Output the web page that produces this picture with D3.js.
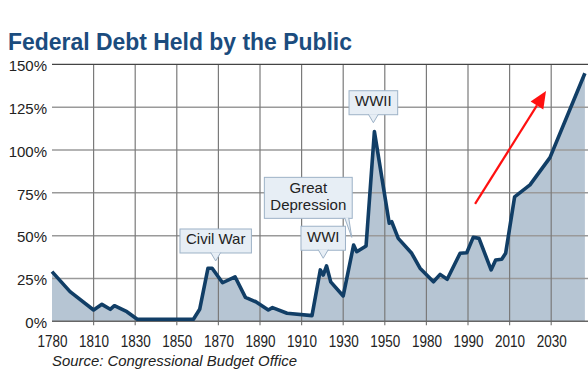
<!DOCTYPE html>
<html><head><meta charset="utf-8">
<script src="https://cdn.jsdelivr.net/npm/d3@7"></script>
<style>body{margin:0;background:#fff}svg{display:block}text{font-family:"Liberation Sans",Arial,Helvetica,sans-serif}</style>
</head><body><svg id="c" width="588" height="386"></svg>
<script>
// ---- data ----
const titleText = "Federal Debt Held by the Public";
const sourceText = "Source: Congressional Budget Office";
const tickYears = [1780,1810,1830,1850,1870,1890,1910,1930,1950,1980,1990,2010,2030];
const yTicks = [0,25,50,75,100,125,150];
const years = [1780,1793,1810,1814,1818,1820,1826,1831,1858,1861,1865,1867,1872,1878,1883,1888,1894,1896,1903,1915,1919,1920.4,1922,1924,1930,1935,1936.5,1941,1945,1953.2,1955,1959.7,1969.4,1975.4,1981.7,1983.3,1985,1988.1,1989.7,1992.5,1995.3,2001.1,2003.3,2006.2,2008.1,2012.4,2019.8,2029.4,2046.2];
const debt  = [29,17.3,6.6,9.9,7,9.1,5.6,1.2,1.2,7,31,31,22.5,26,14,11.4,6.6,8,4.7,3.3,30,27,32.3,23,14.8,44.5,40.6,44,110.7,57.2,58.1,48.4,39.7,31,23.1,27.4,24.5,39.7,40,49,48.4,30,35.8,36.2,39.7,72.6,79.6,95.5,144.8];
const calloutLabels = [["Civil War"],["WWI"],["Great","Depression"],["WWII"]];
const calloutYears  = [1868.7,1920.4,1934.1,1944.5];
const calloutValues = [35.2,36.8,49,115.9];
const arrowYears  = [1993.4,2027.5];
const arrowValues = [68.5,134.4];

// ---- layout ----
const svg = d3.select("#c");
const left = 52, step = 41.6, right = 588;
const xDomain = tickYears.concat([2050]);
const x = d3.scaleLinear().domain(xDomain).range(xDomain.map((d,i)=>left+i*step));
const y = d3.scaleLinear().domain([0,150]).range([321.3,64.3]);

// title
svg.append("text").attr("x",8).attr("y",50).attr("fill","#1b4c7e")
  .attr("font-size",23).attr("font-weight","bold")
  .attr("textLength",344).attr("lengthAdjust","spacingAndGlyphs").text(titleText);

// area
const area = d3.area().x((d,i)=>x(years[i])).y0(y(0)).y1(d=>y(d));
svg.append("path").datum(debt).attr("d",area).attr("fill","#b6c5d3");

// grid
const g = svg.append("g");
g.selectAll("line.h").data(yTicks.filter(d=>d>0 && d<150)).join("line")
  .attr("x1",left).attr("x2",right).attr("y1",d=>y(d)).attr("y2",d=>y(d))
  .attr("stroke","#9a9a9a").attr("stroke-width",1.5);
g.selectAll("line.v").data(tickYears.slice(1)).join("line")
  .attr("x1",d=>x(d)).attr("x2",d=>x(d)).attr("y1",y(150)).attr("y2",y(0)+4)
  .attr("stroke","#7a7a7a").attr("stroke-width",1.2);
g.append("line").attr("x1",left).attr("x2",right).attr("y1",y(150)).attr("y2",y(150))
  .attr("stroke","#444").attr("stroke-width",1.2);
g.append("line").attr("x1",left).attr("x2",right).attr("y1",y(0)).attr("y2",y(0))
  .attr("stroke","#666").attr("stroke-width",1.5);

// line
const line = d3.line().x((d,i)=>x(years[i])).y(d=>y(d));
svg.append("path").datum(debt).attr("d",line).attr("fill","none")
  .attr("stroke","#113e66").attr("stroke-width",3.6).attr("stroke-linejoin","round");

// y axis labels
const ya = svg.append("g").attr("transform",`translate(${left-5},0)`)
  .call(d3.axisLeft(y).tickValues(yTicks).tickSize(0).tickPadding(0).tickFormat(d=>d+"%"));
ya.select(".domain").remove();
ya.selectAll("text").attr("font-size",15).attr("fill","#222").attr("dy","0.42em")
  .attr("font-family","Liberation Sans, Arial, sans-serif");

// x axis labels
const xa = svg.append("g").attr("transform",`translate(0,${y(0)})`)
  .call(d3.axisBottom(x).tickValues(tickYears).tickSize(0).tickPadding(0).tickFormat(d3.format("d")));
xa.select(".domain").remove();
xa.selectAll("text").attr("font-size",17).attr("fill","#222").attr("y",26).attr("dy",0)
  .attr("font-family","Liberation Sans, Arial, sans-serif")
  .attr("textLength",30).attr("lengthAdjust","spacingAndGlyphs");

// source
svg.append("text").attr("x",52).attr("y",366).attr("font-size",14).attr("font-style","italic")
  .attr("fill","#222").attr("textLength",245).attr("lengthAdjust","spacingAndGlyphs").text(sourceText);

// callouts
const boxFill = "#e7eef5", boxStroke = "#9db2c7";
calloutLabels.forEach((lines,k)=>{
  const tx = x(calloutYears[k]), ty = y(calloutValues[k]);
  const cg = svg.append("g");
  const lh = 17;
  const txt = cg.append("text").attr("font-size",15).attr("fill","#222").attr("text-anchor","middle");
  lines.forEach((s,j)=>txt.append("tspan").attr("x",0).attr("y",j*lh).text(s));
  const bb = txt.node().getBBox();
  const padX = 6, padY = 3;
  const w = bb.width + 2*padX, h = lines.length*lh + 2*padY + 1;
  let bx, by;
  if (lines.length === 1) {
    bx = tx - w/2; by = ty - 8 - h;
    cg.insert("rect","text").attr("x",bx).attr("y",by).attr("width",w).attr("height",h)
      .attr("fill",boxFill).attr("stroke",boxStroke);
    cg.append("path").attr("d",`M${tx-5},${by+h-0.5}L${tx},${ty}L${tx+5},${by+h-0.5}`)
      .attr("fill",boxFill).attr("stroke",boxStroke);
  } else {
    bx = tx - w + 0.5; by = ty - 19 - h;
    cg.insert("rect","text").attr("x",bx).attr("y",by).attr("width",w).attr("height",h)
      .attr("fill",boxFill).attr("stroke",boxStroke);
    cg.append("path").attr("d",`M${tx-7},${by+h-0.5}L${tx},${ty}L${tx-3},${by+h-0.5}`)
      .attr("fill",boxFill).attr("stroke",boxStroke);
  }
  txt.attr("transform",`translate(${bx+w/2},${by+padY+12.5})`);
});

// red arrow
const ax1 = x(arrowYears[0]), ay1 = y(arrowValues[0]), ax2 = x(arrowYears[1]), ay2 = y(arrowValues[1]);
const ang = Math.atan2(ay2-ay1, ax2-ax1), hl = 17, hw = 7.5;
const bxp = ax2 - hl*Math.cos(ang), byp = ay2 - hl*Math.sin(ang);
svg.append("line").attr("x1",ax1).attr("y1",ay1).attr("x2",bxp).attr("y2",byp)
  .attr("stroke","#ff1010").attr("stroke-width",2.2);
svg.append("path").attr("d",`M${ax2},${ay2}L${bxp+hw*Math.sin(ang)},${byp-hw*Math.cos(ang)}L${bxp-hw*Math.sin(ang)},${byp+hw*Math.cos(ang)}Z`)
  .attr("fill","#ff1010");
</script></body></html>
